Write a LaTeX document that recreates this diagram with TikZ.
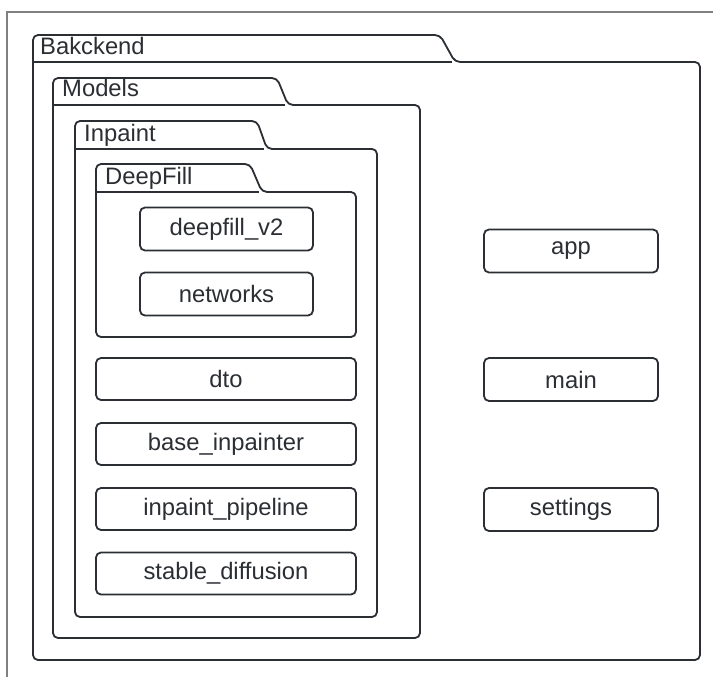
\documentclass[tikz,border=0pt]{standalone}
\usepackage{fontspec}
\setmainfont{Liberation Sans}
\usepackage{xcolor}
\usepackage{tikz}
\definecolor{ink}{HTML}{2B2E32}
\newcommand{\boxfont}{\fontsize{23.8}{28}\selectfont}

\begin{document}
\begin{tikzpicture}[x=1pt, y=-1pt,
  folder/.style={draw=ink, line width=1.8pt, rounded corners=5pt, line join=round},
  leaf/.style={draw=ink, line width=1.8pt, rounded corners=5pt, minimum height=43pt,
    inner sep=0pt, text=ink, font=\boxfont},
  tab/.style={anchor=base west, inner sep=0pt, text=ink, font=\boxfont}]
\useasboundingbox (0,0) rectangle (713,677);
\draw[gray, line width=1.3pt] (7,677) -- (7,12) -- (713,12);

% Bakckend
\draw[folder] (33,62) -- (33,35) -- (440,35) -- (455,62) -- (700,62) -- (700,660) -- (33,660) -- cycle;
\draw[folder] (33,62) -- (452,62);
\node[tab] (backend) at (40,55) {Bakckend};

% Models
\draw[folder] (53,105) -- (53,78) -- (277,78) -- (288,105) -- (420,105) -- (420,638) -- (53,638) -- cycle;
\draw[folder] (53,105) -- (285,105);
\node[tab] (models) at (62,97) {Models};

% Inpaint
\draw[folder] (75,149) -- (75,121) -- (257,121) -- (267,149) -- (377,149) -- (377,617) -- (75,617) -- cycle;
\draw[folder] (75,149) -- (264,149);
\node[tab] (inpaint) at (84,141) {Inpaint};

% DeepFill
\draw[folder] (96,192) -- (96,164) -- (250,164) -- (262,192) -- (356,192) -- (356,337) -- (96,337) -- cycle;
\draw[folder] (96,192) -- (259,192);
\node[tab] (deepfill) at (105,184) {DeepFill};

\node[leaf, minimum width=173pt] (deepfillv2) at (226.5,229) {deepfill\_v2};
\node[leaf, minimum width=173pt] (networks) at (226.5,294) {networks};

\node[leaf, minimum width=260pt, minimum height=42pt] (dto) at (226,379) {dto};
\node[leaf, minimum width=260pt, minimum height=42pt] (base) at (226,444) {base\_inpainter};
\node[leaf, minimum width=260pt, minimum height=42pt] (pipeline) at (226,509) {inpaint\_pipeline};
\node[leaf, minimum width=260pt, minimum height=42pt] (stable) at (226,573.5) {stable\_diffusion};

% top level modules
\node[leaf, minimum width=174pt] (app) at (571,251) {app};
\node[leaf, minimum width=174pt] (main) at (571,379.5) {main};
\node[leaf, minimum width=174pt] (settings) at (571,509.5) {settings};
\end{tikzpicture}
\end{document}
